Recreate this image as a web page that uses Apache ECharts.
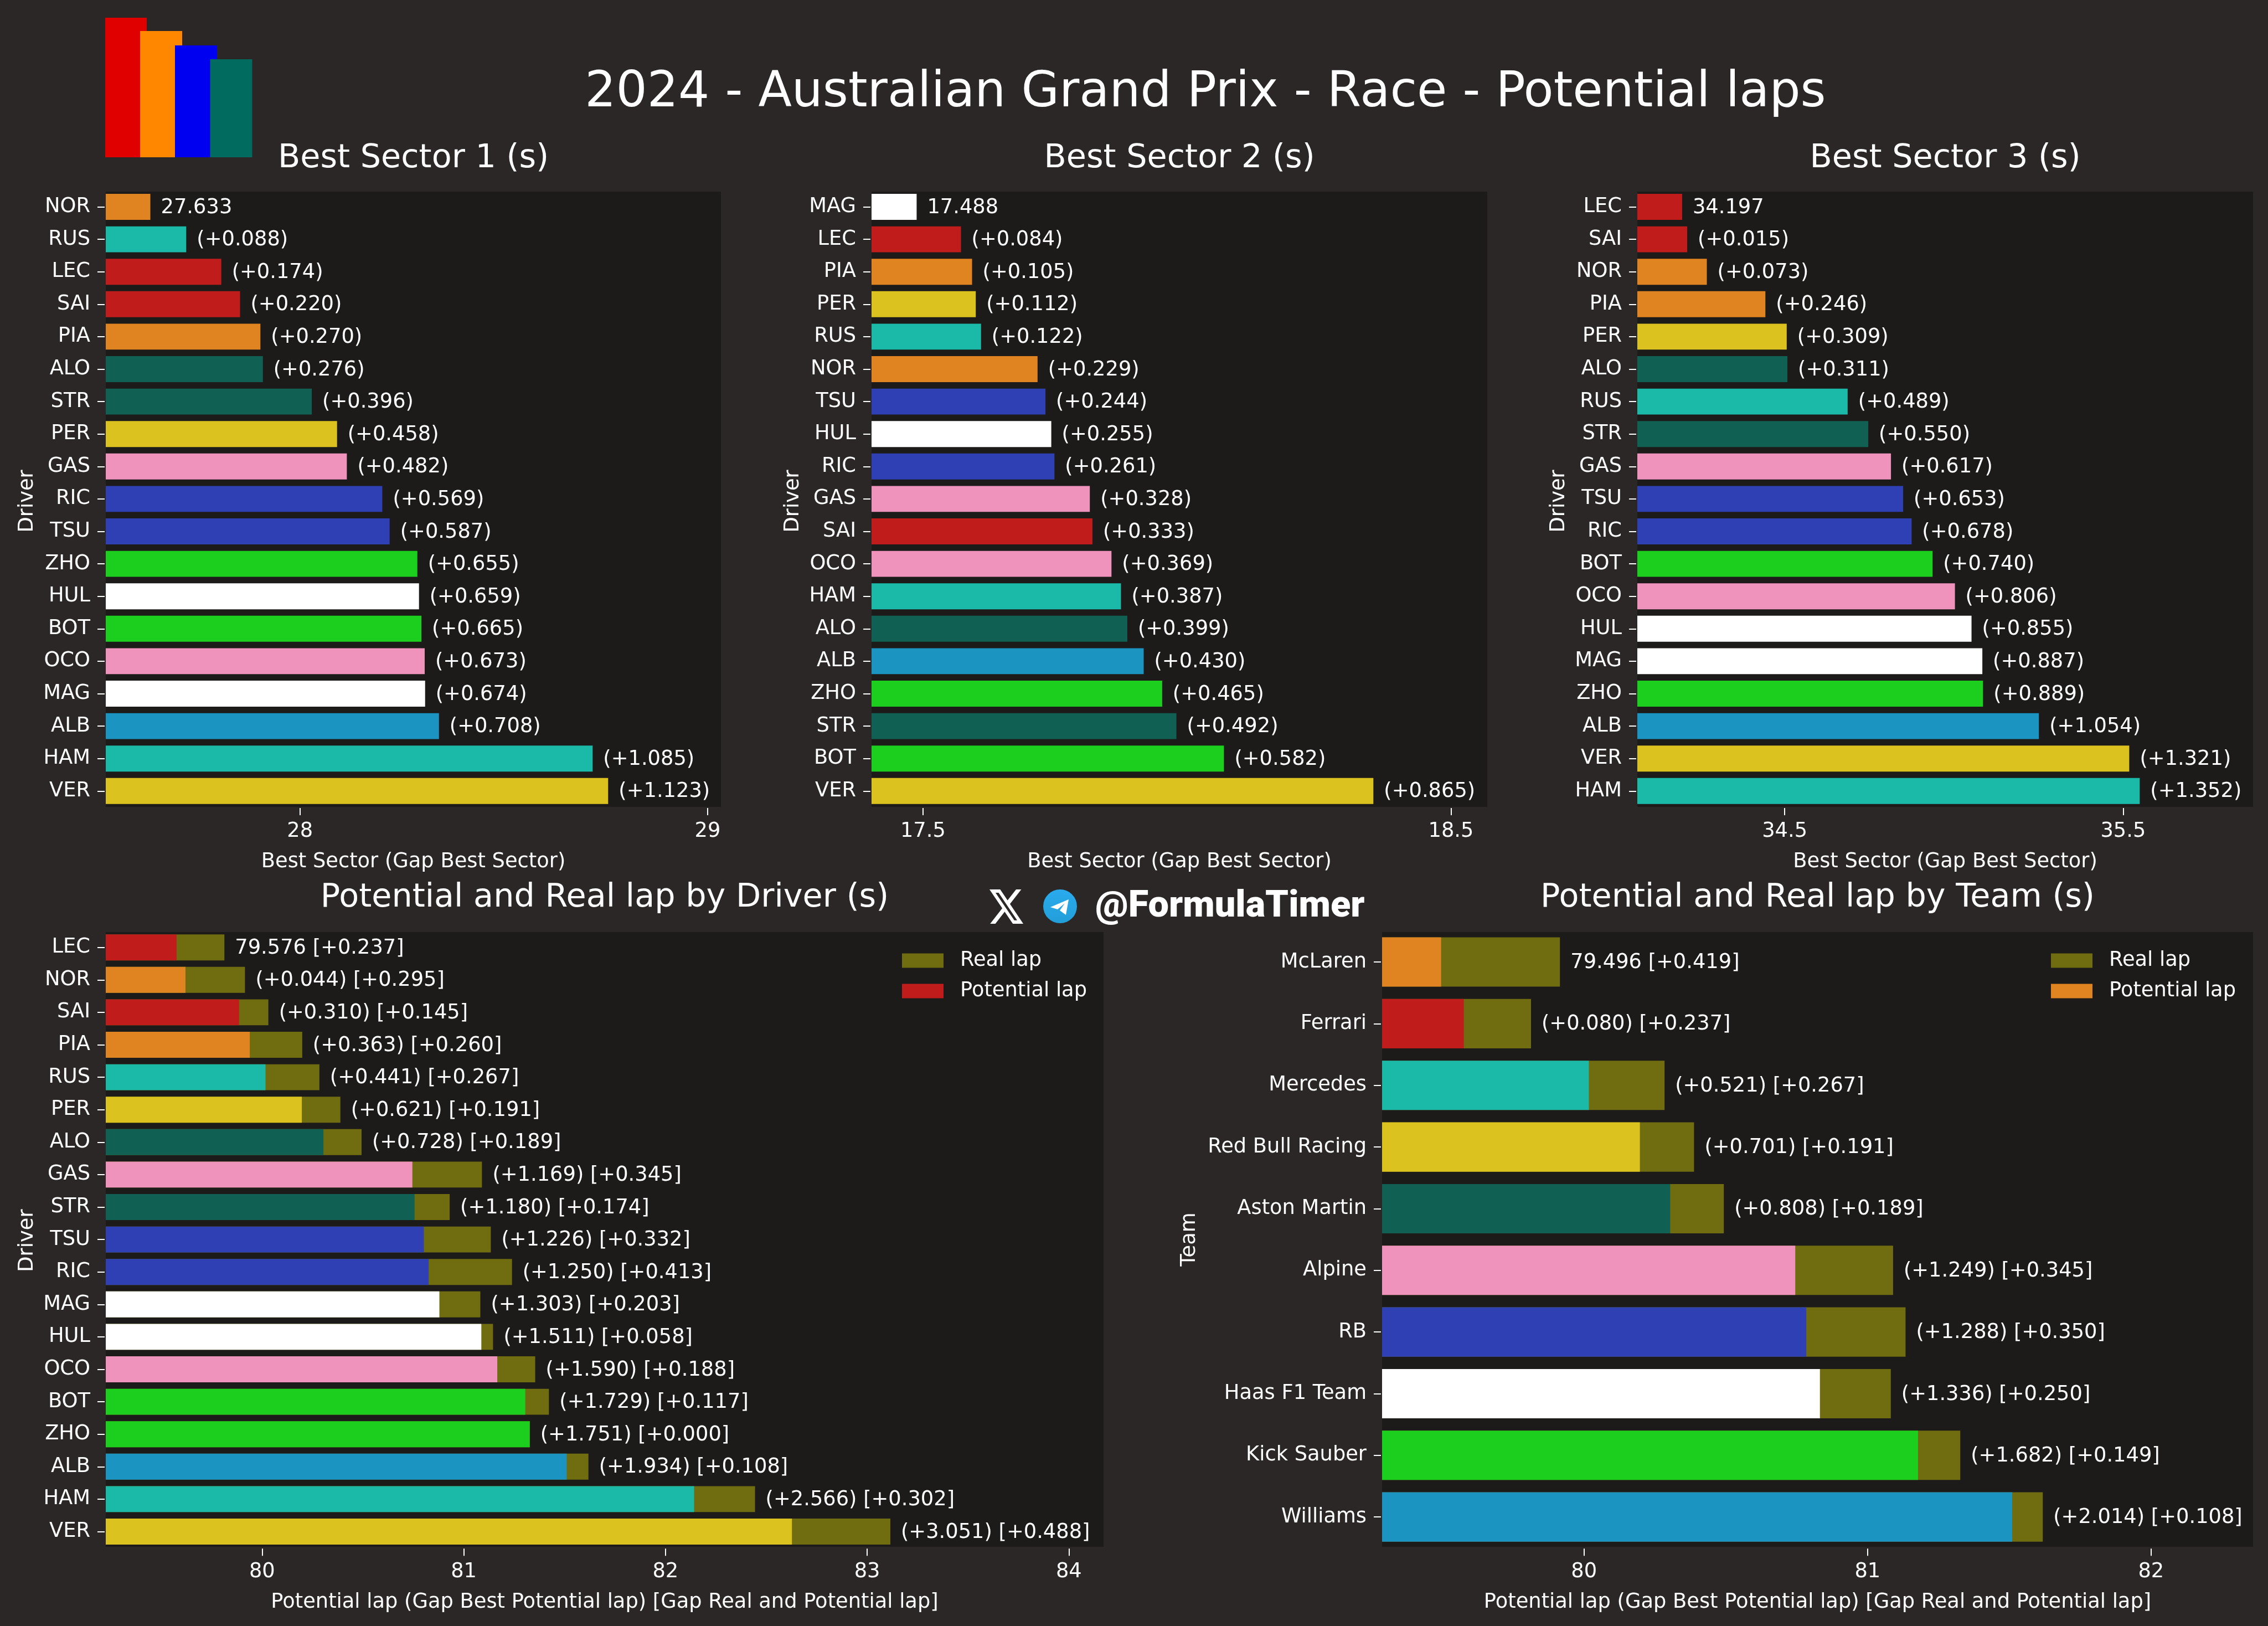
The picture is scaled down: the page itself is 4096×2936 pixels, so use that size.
<!DOCTYPE html>
<html><head><meta charset="utf-8">
<script src="https://cdn.jsdelivr.net/npm/echarts@6/dist/echarts.min.js"></script>
<style>html,body{margin:0;padding:0;background:#2a2726}#c{width:4096px;height:2936px}</style>
</head><body><div id="c"></div>
<script>
const s1Drivers=['NOR','RUS','LEC','SAI','PIA','ALO','STR','PER','GAS','RIC','TSU','ZHO','HUL','BOT','OCO','MAG','ALB','HAM','VER'];
const s1Values=[27.633,27.721,27.807,27.853,27.903,27.909,28.029,28.091,28.115,28.202,28.220,28.288,28.292,28.298,28.306,28.307,28.341,28.718,28.756];
const s1Labels=['27.633','(+0.088)','(+0.174)','(+0.220)','(+0.270)','(+0.276)','(+0.396)','(+0.458)','(+0.482)','(+0.569)','(+0.587)','(+0.655)','(+0.659)','(+0.665)','(+0.673)','(+0.674)','(+0.708)','(+1.085)','(+1.123)'];
const s2Drivers=['MAG','LEC','PIA','PER','RUS','NOR','TSU','HUL','RIC','GAS','SAI','OCO','HAM','ALO','ALB','ZHO','STR','BOT','VER'];
const s2Values=[17.488,17.572,17.593,17.600,17.610,17.717,17.732,17.743,17.749,17.816,17.821,17.857,17.875,17.887,17.918,17.953,17.980,18.070,18.353];
const s2Labels=['17.488','(+0.084)','(+0.105)','(+0.112)','(+0.122)','(+0.229)','(+0.244)','(+0.255)','(+0.261)','(+0.328)','(+0.333)','(+0.369)','(+0.387)','(+0.399)','(+0.430)','(+0.465)','(+0.492)','(+0.582)','(+0.865)'];
const s3Drivers=['LEC','SAI','NOR','PIA','PER','ALO','RUS','STR','GAS','TSU','RIC','BOT','OCO','HUL','MAG','ZHO','ALB','VER','HAM'];
const s3Values=[34.197,34.212,34.270,34.443,34.506,34.508,34.686,34.747,34.814,34.850,34.875,34.937,35.003,35.052,35.084,35.086,35.251,35.518,35.549];
const s3Labels=['34.197','(+0.015)','(+0.073)','(+0.246)','(+0.309)','(+0.311)','(+0.489)','(+0.550)','(+0.617)','(+0.653)','(+0.678)','(+0.740)','(+0.806)','(+0.855)','(+0.887)','(+0.889)','(+1.054)','(+1.321)','(+1.352)'];
const lapDrivers=['LEC','NOR','SAI','PIA','RUS','PER','ALO','GAS','STR','TSU','RIC','MAG','HUL','OCO','BOT','ZHO','ALB','HAM','VER'];
const lapPotential=[79.576,79.620,79.886,79.939,80.017,80.197,80.304,80.745,80.756,80.802,80.826,80.879,81.087,81.166,81.305,81.327,81.510,82.142,82.627];
const lapReal=[79.813,79.915,80.031,80.199,80.284,80.388,80.493,81.090,80.930,81.134,81.239,81.082,81.145,81.354,81.422,81.327,81.618,82.444,83.115];
const lapLabels=['79.576 [+0.237]','(+0.044) [+0.295]','(+0.310) [+0.145]','(+0.363) [+0.260]','(+0.441) [+0.267]','(+0.621) [+0.191]','(+0.728) [+0.189]','(+1.169) [+0.345]','(+1.180) [+0.174]','(+1.226) [+0.332]','(+1.250) [+0.413]','(+1.303) [+0.203]','(+1.511) [+0.058]','(+1.590) [+0.188]','(+1.729) [+0.117]','(+1.751) [+0.000]','(+1.934) [+0.108]','(+2.566) [+0.302]','(+3.051) [+0.488]'];
const teams=['McLaren','Ferrari','Mercedes','Red Bull Racing','Aston Martin','Alpine','RB','Haas F1 Team','Kick Sauber','Williams'];
const teamPotential=[79.496,79.576,80.017,80.197,80.304,80.745,80.784,80.832,81.178,81.510];
const teamReal=[79.915,79.813,80.284,80.388,80.493,81.090,81.134,81.082,81.327,81.618];
const teamLabels=['79.496 [+0.419]','(+0.080) [+0.237]','(+0.521) [+0.267]','(+0.701) [+0.191]','(+0.808) [+0.189]','(+1.249) [+0.345]','(+1.288) [+0.350]','(+1.336) [+0.250]','(+1.682) [+0.149]','(+2.014) [+0.108]'];
const s1Ticks=[28,29], s2Ticks=[17.5,18.5], s3Ticks=[34.5,35.5], lapTicks=[80,81,82,83,84], teamTicks=[80,81,82];

const COL={mcl:'#df8420',fer:'#c01c1c',mer:'#1bb9a8',rbr:'#dcc21f',ast:'#106054',alp:'#ef93bd',rb:'#2e40b4',haas:'#ffffff',sau:'#1ccf1e',wil:'#1b94c2'};
const driverColor={NOR:COL.mcl,PIA:COL.mcl,LEC:COL.fer,SAI:COL.fer,RUS:COL.mer,HAM:COL.mer,VER:COL.rbr,PER:COL.rbr,ALO:COL.ast,STR:COL.ast,GAS:COL.alp,OCO:COL.alp,RIC:COL.rb,TSU:COL.rb,HUL:COL.haas,MAG:COL.haas,ZHO:COL.sau,BOT:COL.sau,ALB:COL.wil};
const teamColor=[COL.mcl,COL.fer,COL.mer,COL.rbr,COL.ast,COL.alp,COL.rb,COL.haas,COL.sau,COL.wil];
const OLIVE='#6f6d10', BG='#2a2726', PANEL='#1c1b1a', TXT='#ffffff', FONT='"DejaVu Sans"';
const FS=36.8;

const panels=[
 {title:'Best Sector 1 (s)',l:191,r:1302,t:346,b:1457,gt:344.2,gh:1113.4,tt:252,min:27.5236,max:29.0327,ticks:s1Ticks,cats:s1Drivers,yname:'Driver',xname:'Best Sector (Gap Best Sector)',ygap:121,ypad:8,colors:s1Drivers.map(d=>driverColor[d]),vals:s1Values,labels:s1Labels},
 {title:'Best Sector 2 (s)',l:1574,r:2686,t:346,b:1457,gt:344.2,gh:1113.4,tt:252,min:17.4026,max:18.5687,ticks:s2Ticks,cats:s2Drivers,yname:'Driver',xname:'Best Sector (Gap Best Sector)',ygap:121,ypad:8,colors:s2Drivers.map(d=>driverColor[d]),vals:s2Values,labels:s2Labels},
 {title:'Best Sector 3 (s)',l:2957,r:4069,t:346,b:1457,gt:344.2,gh:1113.4,tt:252,min:34.0646,max:35.8838,ticks:s3Ticks,cats:s3Drivers,yname:'Driver',xname:'Best Sector (Gap Best Sector)',ygap:121,ypad:8,colors:s3Drivers.map(d=>driverColor[d]),vals:s3Values,labels:s3Labels},
 {title:'Potential and Real lap by Driver (s)',l:191,r:1993,t:1683,b:2793,gt:1681.4,gh:1113.4,tt:1587,min:79.2248,max:84.172,ticks:lapTicks,cats:lapDrivers,yname:'Driver',xname:'Potential lap (Gap Best Potential lap) [Gap Real and Potential lap]',ygap:121,ypad:4,colors:lapDrivers.map(d=>driverColor[d]),vals:lapPotential,real:lapReal,labels:lapLabels,leg:COL.fer},
 {title:'Potential and Real lap by Team (s)',l:2496,r:4069,t:1683,b:2793,gt:1681.4,gh:1113.4,tt:1587,min:79.2877,max:82.3596,ticks:teamTicks,cats:teams,yname:'Team',xname:'Potential lap (Gap Best Potential lap) [Gap Real and Potential lap]',ygap:327,ypad:0,colors:teamColor,vals:teamPotential,real:teamReal,labels:teamLabels,leg:COL.mcl}
];
const grid=[],xAxis=[],yAxis=[],series=[],title=[],legend=[];
title.push({text:'2024 - Australian Grand Prix - Race - Potential laps',left:2172,top:120,textAlign:'center',textStyle:{color:TXT,fontFamily:FONT,fontSize:88.4,fontWeight:'normal'}});
panels.forEach((p,i)=>{
 grid.push({left:p.l,top:p.gt,width:p.r-p.l,height:p.gh,show:false,containLabel:false});
 title.push({text:p.title,left:(p.l+p.r)/2-5,top:p.tt,textAlign:'center',textStyle:{color:TXT,fontFamily:FONT,fontSize:58.8,fontWeight:'normal'}});
 xAxis.push({type:'value',gridIndex:i,min:p.min,max:p.max,offset:1.4,splitLine:{show:false},axisLine:{show:false},
  axisTick:{show:true,length:13,lineStyle:{color:TXT,width:2},customValues:p.ticks},
  axisLabel:{color:TXT,fontFamily:FONT,fontSize:FS,margin:24,customValues:p.ticks,formatter:v=>String(v),hideOverlap:false},
  name:p.xname,nameLocation:'middle',nameGap:79,nameTextStyle:{color:TXT,fontFamily:FONT,fontSize:FS}});
 yAxis.push({type:'category',gridIndex:i,inverse:true,data:p.cats,offset:2,axisLine:{show:false},
  axisTick:{show:true,length:13,alignWithLabel:true,lineStyle:{color:TXT,width:2}},
  axisLabel:{color:TXT,fontFamily:FONT,fontSize:FS,margin:26,interval:0,padding:[6,0,0,0]},
  name:p.yname,nameLocation:'middle',nameGap:p.ygap,nameTextStyle:{color:TXT,fontFamily:FONT,fontSize:FS,padding:[0,p.ypad,0,0]}});
 const lab={show:true,position:'right',distance:19,offset:[0,1.5],color:TXT,fontFamily:FONT,fontSize:FS,formatter:q=>p.labels[q.dataIndex]};
 if(p.real){
  const suffix=i===3?'':' ';
  series.push({type:'bar',name:'Real lap'+suffix,xAxisIndex:i,yAxisIndex:i,barWidth:'80%',barGap:'-100%',itemStyle:{color:OLIVE},data:p.real,label:lab,silent:true,animation:false,z:2});
  series.push({type:'bar',name:'Potential lap'+suffix,xAxisIndex:i,yAxisIndex:i,barWidth:'80%',barGap:'-100%',itemStyle:{color:p.leg},data:p.vals.map((v,k)=>({value:v,itemStyle:{color:p.colors[k]}})),silent:true,animation:false,z:3});
  legend.push({orient:'vertical',left:i===3?1624:3699,top:1711,itemWidth:75,itemHeight:26,itemGap:18,selectedMode:false,icon:'rect',
   data:['Real lap'+suffix,'Potential lap'+suffix],textStyle:{color:TXT,fontFamily:FONT,fontSize:FS,padding:[0,0,0,25]}});
 }else{
  series.push({type:'bar',xAxisIndex:i,yAxisIndex:i,barWidth:'80%',data:p.vals.map((v,k)=>({value:v,itemStyle:{color:p.colors[k]}})),label:lab,silent:true,animation:false,z:2});
 }
});
echarts.graphic.registerShape('xlogo',echarts.graphic.extendPath('M18.244 2.25h3.308l-7.227 8.26 8.502 11.24H16.17l-5.214-6.817L4.99 21.75H1.68l7.73-8.835L1.254 2.25H8.08l4.713 6.231zm-1.161 17.52h1.833L7.084 4.126H5.117z',{}));
const graphic=[
 ...panels.map(p=>({type:'rect',z:0,shape:{x:p.l,y:p.t,width:p.r-p.l,height:p.b-p.t},style:{fill:PANEL}})),
 {type:'rect',shape:{x:190,y:32,width:75,height:252},style:{fill:'#e00000'}},
 {type:'rect',shape:{x:253,y:56,width:76,height:228},style:{fill:'#ff8700'}},
 {type:'rect',shape:{x:316,y:82,width:76,height:202},style:{fill:'#0000f0'}},
 {type:'rect',shape:{x:379.5,y:107,width:76,height:177},style:{fill:'#006b5e'}},
 {type:'xlogo',x:1783.45,y:1598.85,scaleX:2.83,scaleY:3.18,style:{fill:'#ffffff'}},
 {type:'circle',shape:{cx:1914.5,cy:1636.5,r:30.5},style:{fill:{type:'linear',x:0,y:0,x2:0,y2:1,colorStops:[{offset:0,color:'#2aabee'},{offset:1,color:'#229ed9'}]}}},
 {type:'polygon',shape:{points:[[1930,1624],[1897,1638],[1910,1642],[1923,1631],[1914,1644],[1925,1652]]},style:{fill:'#ffffff'}},
 {type:'text',x:1978,y:1605,style:{text:'@FormulaTimer',fill:'#ffffff',font:'900 66.7px Roboto'}}
];
const chart=echarts.init(document.getElementById('c'),null,{renderer:'canvas',width:4096,height:2936});
chart.setOption({animation:false,backgroundColor:BG,title,grid,xAxis,yAxis,series,legend,graphic});
</script></body></html>
